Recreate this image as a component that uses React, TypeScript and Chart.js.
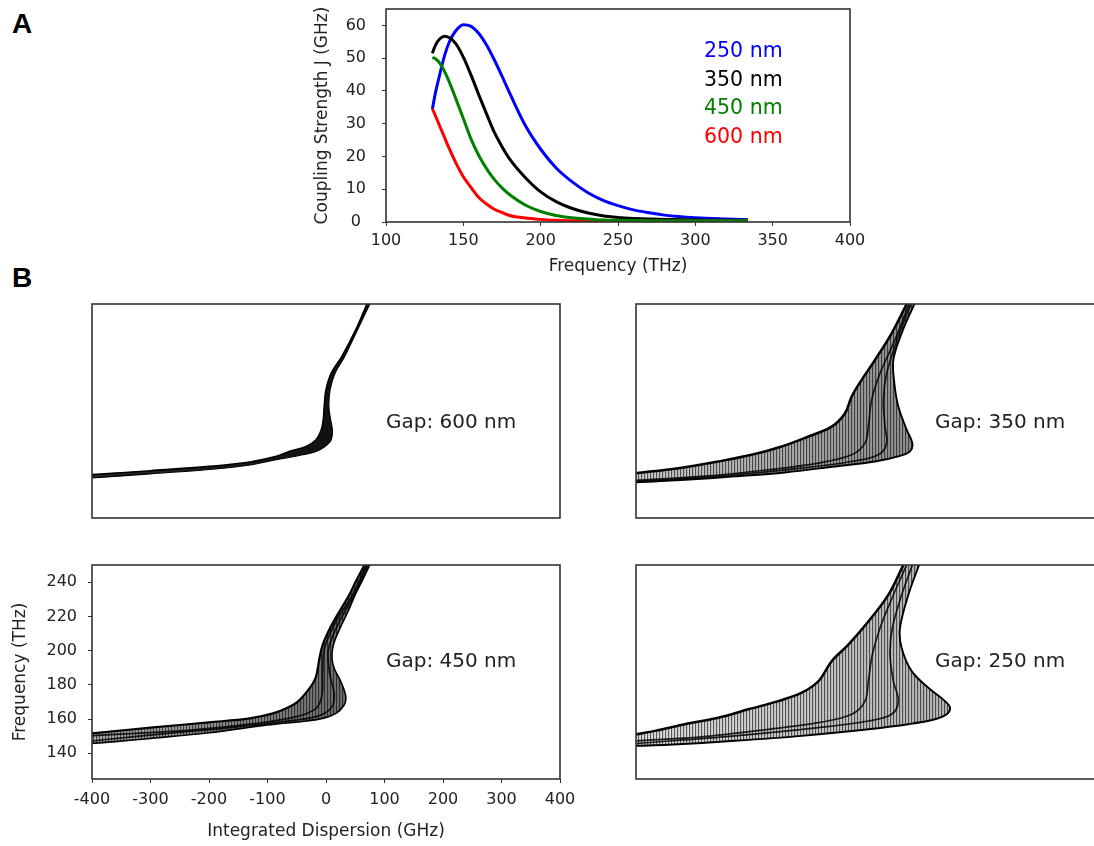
import React, { useEffect, useRef } from "react";
import { Chart, registerables } from "chart.js";

Chart.register(...registerables);

const FONT = "'DejaVu Sans', Verdana, sans-serif";
const TEXT = "#222";
Chart.defaults.font.family = FONT;
Chart.defaults.color = TEXT;

// ---------------- Panel A data ----------------
const freqA = [130, 132, 135, 138, 141, 145, 150, 155, 160, 165, 170, 175, 180, 190, 200, 210, 220, 230, 240, 250, 260, 270, 280, 300, 320, 334];
const coupling250 = [34.5, 39.5, 45.5, 51, 55, 58.3, 60.2, 59.7, 57.5, 54, 49.5, 44.5, 39.3, 29.5, 22.2, 16.5, 12.4, 9.1, 6.7, 5, 3.7, 2.8, 2.1, 1.3, 0.9, 0.7];
const coupling350 = [51.5, 54, 56, 56.7, 56.2, 54.5, 50.3, 44.8, 38.8, 33, 27.4, 23, 19.2, 13.6, 9.2, 6.2, 4.2, 2.8, 1.9, 1.4, 1.1, 0.9, 0.8, 0.6, 0.5, 0.5];
const coupling450 = [50.2, 49.8, 48.3, 45.8, 42.6, 37.8, 31.6, 25.3, 20.3, 16.3, 13, 10.4, 8.3, 5.2, 3.2, 2, 1.3, 0.9, 0.6, 0.5, 0.45, 0.4, 0.4, 0.4, 0.4, 0.4];
const coupling600 = [34.5, 32.4, 29, 25.6, 22.3, 18.2, 13.8, 10.5, 7.5, 5.5, 3.9, 2.9, 2, 1.2, 0.8, 0.5, 0.4, 0.35, 0.3, 0.3, 0.3, 0.3, 0.3, 0.3, 0.3, 0.3];
const gapLabelsA = ["250 nm", "350 nm", "450 nm", "600 nm"];
const gapColorsA = ["#0000ff", "#000000", "#008000", "#ff0000"];
const ticksAFreq = [100, 150, 200, 250, 300, 350, 400];
const ticksAJ = [0, 10, 20, 30, 40, 50, 60];

// ---------------- Panel B data: [integrated dispersion GHz, frequency THz] ----------------
const ticksBDisp = [-400, -300, -200, -100, 0, 100, 200, 300, 400];
const ticksBFreq = [140, 160, 180, 200, 220, 240];

const gap600Upper = [[70, 250], [51, 235], [27, 219.3], [9, 209.6], [0, 199.8], [-3, 190], [-4.6, 182.3], [-8, 176.5], [-17, 170.7], [-34, 166.8], [-62, 163.9], [-85, 161], [-130, 157.7], [-200, 155.1], [-300, 152.6], [-400, 150.3]];
const gap600Lower = [[75, 250], [54, 235], [32, 219.3], [15.5, 209.6], [7, 199.8], [5, 190], [8, 182.3], [11, 176.5], [9, 170.7], [-1.7, 166.8], [-17, 163.9], [-40, 161.9], [-85, 159], [-130, 156], [-200, 153.3], [-300, 150.8], [-400, 148.4]];

const gap350Upper = [[62.7, 250], [37, 232.9], [8.5, 217.3], [-14.2, 205.7], [-31.3, 196], [-42.7, 186.2], [-65.5, 178.4], [-105.4, 172.6], [-151, 166.8], [-202.3, 161.9], [-259.3, 158], [-327.6, 154.1], [-400, 151.2]];
const gap350Lower = [[75.8, 250], [54.1, 232.9], [39.9, 217.3], [41.6, 203.7], [48.4, 190.1], [62.7, 176.5], [72.4, 168.7], [68.4, 163.9], [48.4, 161], [8.5, 158], [-59.8, 155.1], [-145.3, 151.6], [-230.8, 149.3], [-316.2, 147.3], [-400, 145.8]];
const gap350InnerA = [[66.7, 250], [42.7, 229], [17.1, 209.5], [2.8, 194], [-2.8, 178.4], [-8.5, 168.7], [-31.3, 161.9], [-88.3, 157.1], [-173.8, 153.2], [-287.7, 149.3], [-400, 147]];
const gap350InnerB = [[70.1, 250], [48.4, 231], [28.5, 209.5], [22.8, 194], [25.6, 178.4], [28.5, 168.7], [14.2, 161.9], [-31.3, 158], [-116.8, 154.1], [-230.8, 150.2], [-400, 146.2]];

const gap450Upper = [[65.6, 250], [50.9, 240.3], [39.6, 232.5], [22.6, 222.7], [6.8, 213], [-5.7, 203.3], [-11.3, 195.5], [-14.1, 189.6], [-18.1, 183.8], [-28.3, 177.9], [-48.1, 170.2], [-67.9, 166.3], [-90.5, 163.3], [-130.2, 160.4], [-199.8, 158.1], [-300, 155], [-400, 151.6]];
const gap450Lower = [[74.7, 250], [61.1, 240.3], [49.8, 232.5], [37.4, 222.7], [23.8, 213], [12.5, 203.3], [10.2, 195.5], [14.1, 189.6], [22.6, 183.8], [31.1, 177], [34, 172.1], [31.1, 168.2], [17, 163.3], [-5.7, 160.4], [-34, 158.9], [-100.7, 156.5], [-199.8, 152], [-300, 148.7], [-400, 145.8]];
const gap450InnerA = [[69, 250], [45.3, 232.5], [17, 216.9], [-2.8, 201.3], [-5.7, 187.7], [-6.8, 174], [-17, 166.3], [-51, 161.4], [-118.8, 157.5], [-232, 153.6], [-400, 150.3]];
const gap450InnerB = [[71.3, 250], [48.1, 232.5], [22.6, 216.9], [4.5, 201.3], [5.7, 187.7], [14.1, 174], [8.5, 166.3], [-17, 161.4], [-73.6, 158.5], [-175.4, 154.6], [-288.6, 151.1], [-400, 147.2]];

const gap250Upper = [[57, 250], [31.3, 232.5], [-2.8, 217], [-37, 203.5], [-65.5, 193.8], [-88.3, 182.1], [-116.8, 175.4], [-156.7, 170.5], [-208, 165.7], [-259.3, 160.8], [-316.2, 157], [-367.5, 153.1], [-400, 151.1]];
const gap250Lower = [[83.8, 250], [65.5, 232.5], [51.3, 213.2], [54.1, 201.5], [71.2, 188], [99.7, 178.3], [128.2, 170.5], [136.8, 166.7], [131.1, 162.8], [111.1, 159.9], [65.5, 157], [-2.8, 154.1], [-116.8, 150.2], [-230.8, 147.3], [-344.7, 145], [-400, 144.4]];
const gap250InnerA = [[62.7, 250], [39.9, 232.5], [17.1, 213.2], [4, 197.7], [-2.8, 182.2], [-8.5, 170.5], [-31.3, 162.8], [-88.3, 157.9], [-173.8, 154], [-287.7, 149.6], [-400, 147.3]];
const gap250InnerB = [[72.4, 250], [54.1, 232.5], [38.2, 213.2], [34.2, 197.7], [39.9, 182.2], [48.4, 170.5], [37, 162.8], [-2.8, 158.9], [-88.3, 155], [-230.8, 150.2], [-400, 145.7]];

// ---------------- helpers ----------------
const boxPlugin = {
  id: "frameBox",
  afterDraw(chart: any) {
    const { ctx, chartArea: a } = chart;
    ctx.save();
    ctx.strokeStyle = "#333";
    ctx.lineWidth = 1.6;
    ctx.strokeRect(a.left, a.top, a.right - a.left, a.bottom - a.top);
    ctx.restore();
  },
};

const zeroPad = (s: any) => {
  s.paddingTop = 0;
  s.paddingBottom = 0;
  s.paddingLeft = 0;
  s.paddingRight = 0;
};

const pts = (arr: number[][]) => arr.map(([x, y]) => ({ x, y }));

const bandFill = (tailA: number, bodyA: number) => (c: any) => {
  const ch = c.chart;
  const xs = ch.scales && ch.scales.x;
  if (!ch.chartArea || !xs) return `rgba(0,0,0,${bodyA})`;
  const g = ch.ctx.createLinearGradient(xs.getPixelForValue(-400), 0, xs.getPixelForValue(100), 0);
  g.addColorStop(0, `rgba(0,0,0,${tailA})`);
  g.addColorStop(1, `rgba(0,0,0,${bodyA})`);
  return g;
};

let stripeCache: any = null;
const stripeFill = (c: any) => {
  if (!stripeCache) {
    const cv = document.createElement("canvas");
    cv.width = 3;
    cv.height = 2;
    const x = cv.getContext("2d") as CanvasRenderingContext2D;
    x.fillStyle = "rgba(0,0,0,0.6)";
    x.fillRect(0, 0, 1, 2);
    x.fillStyle = "rgba(0,0,0,0.15)";
    x.fillRect(1, 0, 1, 1);
    stripeCache = c.chart.ctx.createPattern(cv, "repeat");
  }
  return stripeCache;
};

const curve = (arr: number[][], color: string, width: number) => ({
  data: pts(arr),
  showLine: true,
  borderColor: color,
  borderWidth: width,
  pointRadius: 0,
  tension: 0.35,
  fill: false,
});

const polygon = (upper: number[][], lower: number[][], bg: any) => ({
  data: pts([...upper, ...lower.slice().reverse()]),
  showLine: true,
  fill: "shape",
  backgroundColor: bg,
  borderColor: "rgba(0,0,0,0)",
  borderWidth: 1,
  pointRadius: 0,
  tension: 0.3,
});

function bandConfig(upper: number[][], lower: number[][], inners: number[][][], tailA: number, bodyA: number, edgeW: number, striped: boolean, axes: boolean, padding: any) {
  const datasets: any[] = [
    ...inners.map((arr) => curve(arr, "rgba(0,0,0,0.85)", 1.7)),
    curve(upper, "#000", edgeW + 0.6),
    curve(lower, "#000", edgeW),
  ];
  if (striped) datasets.push(polygon(upper, lower, stripeFill));
  datasets.push(polygon(upper, lower, bandFill(tailA, bodyA)));
  const tickFont = { family: FONT, size: 16 };
  const titleFont = { family: FONT, size: 17 };
  return {
    type: "scatter",
    data: { datasets },
    options: {
      animation: false,
      responsive: false,
      events: [],
      layout: { padding },
      plugins: { legend: { display: false }, tooltip: { enabled: false } },
      scales: {
        x: {
          type: "linear",
          min: -400,
          max: 400,
          display: axes,
          afterBuildTicks: (s: any) => { s.ticks = ticksBDisp.map((v) => ({ value: v })); },
          afterFit: (s: any) => { zeroPad(s); if (axes) s.height = 67; },
          border: { display: false },
          grid: { drawOnChartArea: false, tickLength: 4, color: "#333" },
          ticks: { font: tickFont, color: TEXT, padding: 7, maxRotation: 0, autoSkip: false },
          title: { display: true, text: "Integrated Dispersion (GHz)", font: titleFont, color: TEXT, padding: { top: 0, bottom: 4 } },
        },
        y: {
          type: "linear",
          min: 125,
          max: 250,
          display: axes,
          afterBuildTicks: (s: any) => { s.ticks = ticksBFreq.map((v) => ({ value: v })); },
          afterFit: (s: any) => { zeroPad(s); if (axes) s.width = 92; },
          border: { display: false },
          grid: { drawOnChartArea: false, tickLength: 4, color: "#333" },
          ticks: { font: tickFont, color: TEXT, padding: 11, autoSkip: false },
          title: { display: true, text: "Frequency (THz)", font: titleFont, color: TEXT, padding: { top: 10, bottom: 0 } },
        },
      },
    },
    plugins: [boxPlugin],
  };
}

const makeA = () => {
  const line = (vals: number[], color: string) => ({
    data: freqA.map((f, i) => ({ x: f, y: vals[i] })),
    showLine: true,
    borderColor: color,
    borderWidth: 3,
    pointRadius: 0,
    cubicInterpolationMode: "monotone",
    fill: false,
  });
  const tickFont = { family: FONT, size: 16 };
  const titleFont = { family: FONT, size: 17 };
  return {
    type: "scatter",
    data: {
      datasets: [
        line(coupling450, gapColorsA[2]),
        line(coupling600, gapColorsA[3]),
        line(coupling350, gapColorsA[1]),
        line(coupling250, gapColorsA[0]),
      ],
    },
    options: {
      animation: false,
      responsive: false,
      events: [],
      layout: { padding: { top: 9, right: 20, left: 0, bottom: 0 } },
      plugins: { legend: { display: false }, tooltip: { enabled: false } },
      scales: {
        x: {
          type: "linear",
          min: 100,
          max: 400,
          afterBuildTicks: (s: any) => { s.ticks = ticksAFreq.map((v) => ({ value: v })); },
          afterFit: (s: any) => { zeroPad(s); s.height = 63; },
          border: { display: false },
          grid: { drawOnChartArea: false, tickLength: 4, color: "#333" },
          ticks: { font: tickFont, color: TEXT, padding: 5, maxRotation: 0, autoSkip: false },
          title: { display: true, text: "Frequency (THz)", font: titleFont, color: TEXT, padding: { top: 0, bottom: 8 } },
        },
        y: {
          type: "linear",
          min: 0,
          max: 65,
          afterBuildTicks: (s: any) => { s.ticks = ticksAJ.map((v) => ({ value: v })); },
          afterFit: (s: any) => { zeroPad(s); s.width = 86; },
          border: { display: false },
          grid: { drawOnChartArea: false, tickLength: 4, color: "#333" },
          ticks: { font: tickFont, color: TEXT, padding: 16, crossAlign: "center", autoSkip: false },
          title: { display: true, text: "Coupling Strength J (GHz)", font: titleFont, color: TEXT, padding: { top: 12.8, bottom: 0 } },
        },
      },
    },
    plugins: [boxPlugin],
  };
};

const pad10 = { top: 10, right: 10, bottom: 10, left: 10 };
const make600 = () => bandConfig(gap600Upper, gap600Lower, [], 0.85, 0.95, 1.1, false, false, pad10);
const make350 = () => bandConfig(gap350Upper, gap350Lower, [gap350InnerA, gap350InnerB], 0.2, 0.45, 1.9, true, false, pad10);
const make450 = () => bandConfig(gap450Upper, gap450Lower, [gap450InnerA, gap450InnerB], 0.3, 0.62, 1.6, true, true, { top: 20, right: 20, bottom: 0, left: 0 });
const make250 = () => bandConfig(gap250Upper, gap250Lower, [gap250InnerA, gap250InnerB], 0.12, 0.28, 1.9, true, false, pad10);

function ChartBox({ left, top, width, height, make }: any) {
  const ref = useRef<HTMLCanvasElement>(null);
  useEffect(() => {
    const chart = new Chart(ref.current as HTMLCanvasElement, make() as any);
    return () => chart.destroy();
  }, [make]);
  return (
    <canvas
      ref={ref}
      width={width}
      height={height}
      style={{ position: "absolute", left, top, width, height, display: "block" }}
    />
  );
}

const textStyle = (left: number, top: number, size: number, color: string, bold = false, family = FONT): React.CSSProperties => ({
  position: "absolute",
  left,
  top,
  fontFamily: family,
  fontSize: size,
  lineHeight: `${size}px`,
  fontWeight: bold ? 700 : 400,
  color,
  whiteSpace: "nowrap",
});

export default function App() {
  return (
    <div style={{ position: "fixed", left: 0, top: 0, width: 1094, height: 846, overflow: "hidden", background: "#fff" }}>
      <div style={textStyle(12, 9.7, 28, "#000", true, "'Liberation Sans', Arial, sans-serif")}>A</div>
      <div style={textStyle(12, 264.4, 28, "#000", true, "'Liberation Sans', Arial, sans-serif")}>B</div>

      <ChartBox left={300} top={0} width={570} height={285} make={makeA} />
      {gapLabelsA.map((t, i) => (
        <div key={t} style={textStyle(704, 40 + i * 28.5, 20.5, gapColorsA[i])}>{t}</div>
      ))}

      <ChartBox left={82} top={294} width={488} height={234} make={make600} />
      <ChartBox left={626} top={294} width={488} height={234} make={make350} />
      <ChartBox left={0} top={545} width={580} height={301} make={make450} />
      <ChartBox left={626} top={555} width={488} height={234} make={make250} />

      <div style={textStyle(386, 410.7, 20, TEXT)}>Gap: 600 nm</div>
      <div style={textStyle(935, 410.7, 20, TEXT)}>Gap: 350 nm</div>
      <div style={textStyle(386, 649.7, 20, TEXT)}>Gap: 450 nm</div>
      <div style={textStyle(935, 649.7, 20, TEXT)}>Gap: 250 nm</div>
    </div>
  );
}
